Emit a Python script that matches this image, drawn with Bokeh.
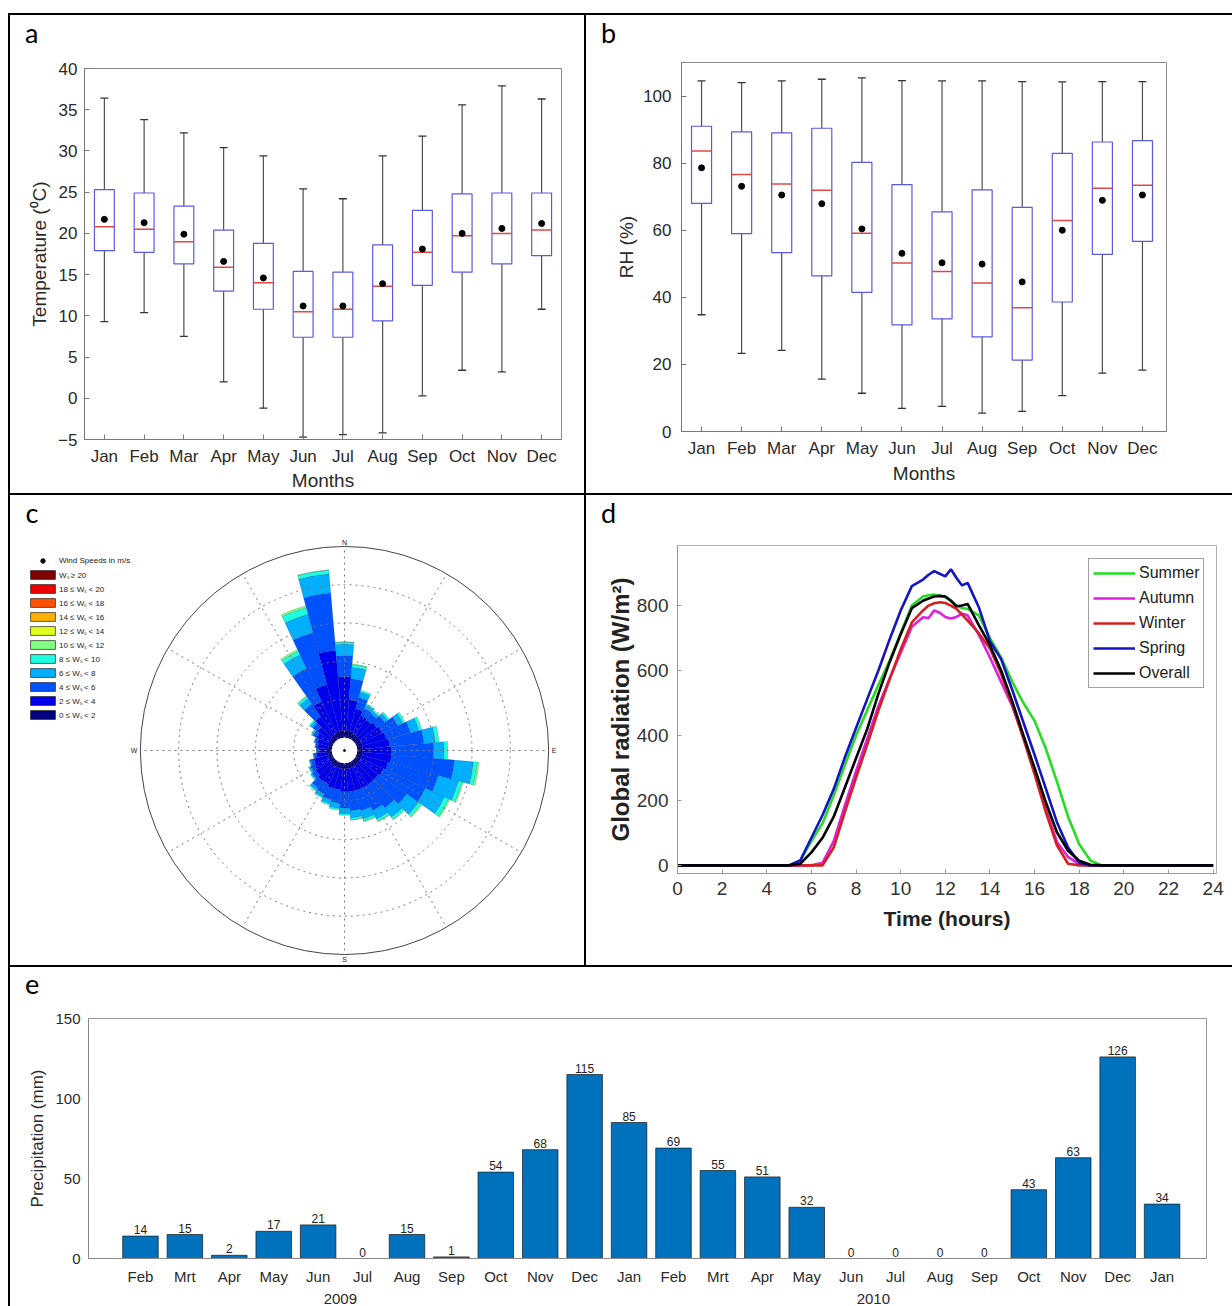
import numpy as np
from bokeh.plotting import figure
from bokeh.models import (ColumnDataSource, FixedTicker, SingleIntervalTicker, Legend, LegendItem,
                          LinearAxis, Label, Spacer, Range1d, Div)
from bokeh.layouts import row, column
from bokeh.embed import file_html
from bokeh.resources import INLINE
from bokeh.core.properties import value

FONT = "Liberation Sans"
LFONT = "Lato"

# ---------------- data: panel a (temperature box plots) ----------------
months = ["Jan", "Feb", "Mar", "Apr", "May", "Jun", "Jul", "Aug", "Sep", "Oct", "Nov", "Dec"]
temp_upper = [36.4, 33.8, 32.2, 30.4, 29.4, 25.4, 24.2, 29.4, 31.8, 35.6, 37.9, 36.3]
temp_q3 = [25.3, 24.9, 23.3, 20.4, 18.8, 15.4, 15.3, 18.6, 22.8, 24.8, 24.9, 24.9]
temp_median = [20.8, 20.5, 19.0, 15.9, 14.0, 10.5, 10.8, 13.6, 17.7, 19.7, 20.0, 20.4]
temp_mean = [21.7, 21.3, 19.9, 16.6, 14.6, 11.2, 11.2, 13.9, 18.1, 20.0, 20.6, 21.2]
temp_q1 = [17.9, 17.7, 16.3, 13.0, 10.8, 7.4, 7.4, 9.4, 13.7, 15.3, 16.3, 17.3]
temp_lower = [9.3, 10.4, 7.5, 2.0, -1.2, -4.7, -4.4, -4.2, 0.3, 3.4, 3.2, 10.8]

# ---------------- data: panel b (relative humidity box plots) ----------------
rh_upper = [104.5, 104.0, 104.5, 105.0, 105.4, 104.6, 104.5, 104.5, 104.3, 104.2, 104.3, 104.3]
rh_q3 = [91.0, 89.3, 89.0, 90.4, 80.2, 73.6, 65.5, 72.0, 66.8, 82.9, 86.3, 86.7]
rh_median = [83.6, 76.6, 73.8, 71.9, 59.1, 50.2, 47.7, 44.3, 36.9, 62.9, 72.5, 73.4]
rh_mean = [78.6, 73.1, 70.5, 67.9, 60.4, 53.1, 50.3, 49.9, 44.6, 60.0, 68.9, 70.5]
rh_q1 = [68.0, 59.0, 53.3, 46.4, 41.5, 31.8, 33.6, 28.2, 21.3, 38.6, 52.8, 56.7]
rh_lower = [34.8, 23.3, 24.2, 15.6, 11.4, 6.9, 7.5, 5.5, 6.0, 10.7, 17.4, 18.3]

# ---------------- data: panel c (wind rose, frequency in ring units) ----------------
wind_dirs = list(range(0, 360, 10))
speed_0_2 = [.20, .20, .20, .18, .15, .15, .15, .15, .15, .15, .15, .15, .15, .15, .15, .15, .15, .15,
             .15, .15, .15, .15, .15, .13, .12, .12, .10, .10, .10, .10, .12, .13, .15, .18, .20, .20]
speed_2_4 = [1.40, .80, .60, .50, .50, .55, .60, .65, .70, .75, .75, .70, .65, .60, .60, .60, .60, .60,
             .60, .55, .55, .50, .50, .45, .42, .38, .30, .25, .27, .30, .35, .40, .60, .90, 1.25, 2.10]
speed_4_6 = [.55, .55, .30, .20, .20, .25, .45, .65, .90, 1.10, 1.65, 1.35, 1.20, .90, .75, .65, .55, .50,
             .42, .35, .30, .27, .22, .12, .11, .09, .07, .05, .06, .07, .10, .16, .40, .95, 1.40, 1.50]
speed_6_8 = [.30, .30, .15, .10, .08, .10, .15, .23, .30, .27, .50, .55, .55, .38, .30, .25, .22, .19,
             .15, .14, .11, .09, .07, .04, .04, .03, .02, .01, .02, .02, .04, .07, .18, .40, .50, .50]
speed_8_10 = [.05, .07, .05, .04, .04, .05, .06, .08, .10, .10, .10, .10, .12, .08, .07, .06, .06, .05,
              .04, .04, .04, .03, .03, .02, .02, .01, .01, 0, 0, .01, .02, .04, .06, .10, .18, .10]
speed_10_12 = [.01, .02, 0, 0, 0, 0, 0, 0, 0, 0, .05, .03, .04, .03, .02, .02, .02, .01,
               0, 0, 0, 0, 0, 0, 0, 0, 0, 0, 0, 0, 0, 0, .02, .05, .05, .01]
speed_labels = ["Wₛ ≥ 20", "18 ≤ Wₛ < 20", "16 ≤ Wₛ < 18", "14 ≤ Wₛ < 16", "12 ≤ Wₛ < 14",
                "10 ≤ Wₛ < 12", "8 ≤ Wₛ < 10", "6 ≤ Wₛ < 8", "4 ≤ Wₛ < 6", "2 ≤ Wₛ < 4", "0 ≤ Wₛ < 2"]
speed_colors = ["#800000", "#EE0000", "#FF5200", "#FFB000", "#E0FF1E",
                "#80FF80", "#1EFFE0", "#00B0FF", "#0052FF", "#0000EE", "#00007F"]

# ---------------- data: panel d (diurnal global radiation) ----------------
hours = [0, 5, 5.5, 6, 6.5, 7, 7.5, 8, 8.5, 9, 9.5, 10, 10.5, 11, 11.25, 11.5, 11.75, 12, 12.25,
         12.5, 12.75, 13, 13.5, 14, 14.5, 15, 15.5, 16, 16.5, 17, 17.5, 18, 18.5, 19, 24]
rad_summer = [0, 0, 15, 75, 130, 215, 310, 400, 478, 555, 630, 715, 800, 828, 832, 834, 830, 826, 815,
              800, 792, 790, 770, 700, 640, 565, 500, 445, 360, 258, 150, 65, 15, 0, 0]
rad_autumn = [0, 0, 0, 0, 8, 75, 185, 290, 390, 490, 575, 655, 735, 764, 762, 785, 778, 765, 760,
              765, 775, 770, 710, 640, 565, 490, 395, 290, 175, 72, 26, 3, 0, 0, 0]
rad_winter = [0, 0, 0, 0, 0, 55, 165, 270, 372, 477, 572, 665, 748, 785, 800, 807, 810, 808, 800,
              790, 772, 754, 715, 668, 590, 495, 390, 280, 165, 62, 5, 0, 0, 0, 0]
rad_spring = [0, 0, 15, 85, 155, 235, 333, 423, 512, 600, 695, 785, 860, 880, 895, 906, 898, 890, 912,
              885, 862, 870, 795, 690, 635, 540, 440, 340, 237, 133, 55, 8, 0, 0, 0]
rad_overall = [0, 0, 5, 40, 85, 150, 240, 330, 420, 528, 625, 712, 792, 815, 822, 828, 830, 828, 815,
               798, 800, 805, 740, 678, 600, 505, 400, 300, 195, 102, 45, 14, 2, 0, 0]
seasons = ["Summer", "Autumn", "Winter", "Spring", "Overall"]
season_colors = ["#22DD22", "#E020E0", "#D42020", "#1414C4", "#000000"]

# ---------------- data: panel e (monthly precipitation) ----------------
precip_months = ["Feb", "Mrt", "Apr", "May", "Jun", "Jul", "Aug", "Sep", "Oct", "Nov", "Dec", "Jan",
                 "Feb", "Mrt", "Apr", "May", "Jun", "Jul", "Aug", "Sep", "Oct", "Nov", "Dec", "Jan"]
precip_mm = [14, 15, 2, 17, 21, 0, 15, 1, 54, 68, 115, 85, 69, 55, 51, 32, 0, 0, 0, 0, 43, 63, 126, 34]
years = ["2009", "2010"]
year_centers = [5.5, 17.5]

LETTER_H = 40  # height of the strip holding a panel letter


# ---------------- helpers ----------------
def base_fig(w, h, xr, yr, l, r, t, b):
    p = figure(width=w, height=h, x_range=xr, y_range=yr,
               min_border_left=l, min_border_right=r, min_border_top=t, min_border_bottom=b,
               toolbar_location=None, output_backend="svg",
               background_fill_color="white", border_fill_color="white")
    p.grid.visible = False
    return p


def style_axis(ax, size, color="#2a2a2a", line="#777", tick_in=5):
    ax.major_label_text_font = FONT
    ax.major_label_text_font_size = size
    ax.major_label_text_color = color
    ax.axis_line_color = line
    ax.major_tick_line_color = line
    ax.major_tick_in = tick_in
    ax.major_tick_out = 0
    ax.minor_tick_line_color = None
    ax.axis_label_text_font = FONT
    ax.axis_label_text_font_style = "normal"
    ax.axis_label_text_color = color


def letter_div(text, width, top=4, left=15):
    html = ('<span style="display:block; position:relative; top:%dpx; left:%dpx; '
            'font-family:Lato; font-size:27px; line-height:27px; color:black;">%s</span>'
            % (top, left, text))
    return Div(text=html, width=width, height=LETTER_H, margin=0)


def boxplot(p, up, q3, med, mean, q1, lo):
    x = np.arange(1, len(up) + 1)
    src = ColumnDataSource(dict(x=x, up=up, q3=q3, med=med, mean=mean, q1=q1, lo=lo,
                                xl=x - 0.25, xr=x + 0.25))
    wc = "#505050"
    p.segment("x", "q3", "x", "up", source=src, line_color=wc, line_width=1.2)
    p.segment("x", "lo", "x", "q1", source=src, line_color=wc, line_width=1.2)
    p.scatter("x", "up", source=src, marker="dash", size=8, line_color="#333", line_width=1.3)
    p.scatter("x", "lo", source=src, marker="dash", size=8, line_color="#333", line_width=1.3)
    p.vbar(x="x", width=0.5, top="q3", bottom="q1", source=src, fill_color=None,
           line_color="#5A5AE0", line_width=1.2)
    p.segment("xl", "med", "xr", "med", source=src, line_color="#E04848", line_width=1.5)
    p.scatter("x", "mean", source=src, size=6, fill_color="black", line_color="black")


def month_axis(p, labels):
    p.xaxis.ticker = FixedTicker(ticks=list(range(1, len(labels) + 1)))
    p.xaxis.major_label_overrides = {i + 1: m for i, m in enumerate(labels)}


# ---------------- panel a ----------------
pa = base_fig(574, 478 - LETTER_H, Range1d(0.5, 12.5), Range1d(-5, 40), 74, 23, 53 - LETTER_H, 53)
pa.outline_line_color = "#888"
boxplot(pa, temp_upper, temp_q3, temp_median, temp_mean, temp_q1, temp_lower)
month_axis(pa, months)
pa.yaxis.ticker = SingleIntervalTicker(interval=5, num_minor_ticks=0)
for ax in pa.axis:
    style_axis(ax, "17px")
pa.xaxis.axis_label = "Months"
pa.yaxis.axis_label = "Temperature (⁰C)"
pa.xaxis.axis_label_text_font_size = "19px"
pa.yaxis.axis_label_text_font_size = "19px"
pa.xaxis.major_label_standoff = 7
pa.yaxis.major_label_standoff = 7
pa.xaxis.axis_label_standoff = 1
pa.yaxis.axis_label_standoff = 5

# ---------------- panel b ----------------
pb = base_fig(646, 478 - LETTER_H, Range1d(0.5, 12.6), Range1d(0, 110), 95, 66, 47 - LETTER_H, 62)
pb.outline_line_color = "#888"
boxplot(pb, rh_upper, rh_q3, rh_median, rh_mean, rh_q1, rh_lower)
month_axis(pb, months)
pb.yaxis.ticker = SingleIntervalTicker(interval=20, num_minor_ticks=0)
for ax in pb.axis:
    style_axis(ax, "17px")
pb.xaxis.axis_label = "Months"
pb.yaxis.axis_label = "RH (%)"
pb.xaxis.axis_label_text_font_size = "19px"
pb.yaxis.axis_label_text_font_size = "19px"
pb.xaxis.major_label_standoff = 7
pb.yaxis.major_label_standoff = 10
pb.xaxis.axis_label_standoff = 2
pb.yaxis.axis_label_standoff = 3

# ---------------- panel c (wind rose) ----------------
S = 38.3  # pixels per ring unit (keeps x and y scales equal)
R0 = 0.33
R_OUT = R0 + 5
pc = figure(width=574, height=470, x_range=Range1d(-334 / S, 240 / S), y_range=Range1d(-215 / S, 255 / S),
            min_border=0, x_axis_type=None, y_axis_type=None, toolbar_location=None,
            output_backend="svg", outline_line_color=None, background_fill_color="white",
            border_fill_color="white")
pc.grid.visible = False

bear = np.array(wind_dirs, dtype=float)
a0 = np.deg2rad(90 - bear - 5)
a1 = np.deg2rad(90 - bear + 5)
base = np.full(len(wind_dirs), R0)
classes = [speed_0_2, speed_2_4, speed_4_6, speed_6_8, speed_8_10, speed_10_12]
class_colors = speed_colors[::-1][:len(classes)]
for vals, col in zip(classes, class_colors):
    v = np.array(vals, dtype=float)
    m = v > 0
    src = ColumnDataSource(dict(x=np.zeros(m.sum()), y=np.zeros(m.sum()), ri=base[m], ro=(base + v)[m],
                                a0=a0[m], a1=a1[m]))
    pc.annular_wedge(x="x", y="y", inner_radius="ri", outer_radius="ro", start_angle="a0",
                     end_angle="a1", source=src, fill_color=col, line_color="#000033",
                     line_alpha=0.3, line_width=0.5)
    base = base + v

ring_src = ColumnDataSource(dict(x=[0, 0, 0, 0], y=[0, 0, 0, 0], r=[R0 + k for k in (1, 2, 3, 4)]))
pc.circle(x="x", y="y", radius="r", source=ring_src, fill_color=None, line_color="#7a7a7a",
          line_dash="dotted", line_width=1)
pc.ray(x=[0] * 12, y=[0] * 12, length=R_OUT, angle=np.deg2rad(np.arange(0, 360, 30)),
       line_color="#7a7a7a", line_dash="dotted", line_width=1)
pc.circle(x=[0], y=[0], radius=[R_OUT], fill_color=None, line_color="#444", line_width=1)
pc.circle(x=[0], y=[0], radius=[R0], fill_color="white", line_color=None)
pc.scatter(x=[0], y=[0], size=2, color="black")

compass = ColumnDataSource(dict(x=[0, R_OUT, 0, -R_OUT], y=[R_OUT, 0, -R_OUT, 0], t=["N", "E", "S", "W"],
                                al=["center", "left", "center", "right"],
                                bl=["bottom", "middle", "top", "middle"],
                                xo=[0, 3, 0, -3], yo=[0, 0, 1, 0]))
pc.text(x="x", y="y", text="t", source=compass, text_align="al", text_baseline="bl",
        x_offset="xo", y_offset="yo", text_font=value(FONT), text_font_size="7px", text_color="#222")

# legend proxies (NaN data: nothing drawn in the plot, only the legend swatches)
items = []
dot_r = pc.scatter(x=[np.nan], y=[np.nan], size=2, color="black")
items.append(LegendItem(label="Wind Speeds in m/s", renderers=[dot_r]))
for lab, col in zip(speed_labels, speed_colors):
    q = pc.quad(left=[np.nan], right=[np.nan], top=[np.nan], bottom=[np.nan], fill_color=col,
                line_color="black", line_width=0.6)
    items.append(LegendItem(label=lab, renderers=[q]))
leg_c = Legend(items=items, location=(17, 245), glyph_width=31, glyph_height=11, label_height=11,
               spacing=3, padding=2, label_standoff=1, label_text_font=FONT,
               label_text_font_size="8px", label_text_color="#222",
               border_line_color=None, background_fill_alpha=0)
pc.add_layout(leg_c)
pc.add_layout(Label(x=15, y=453, x_units="screen", y_units="screen", text="c",
                    text_font=LFONT, text_font_size="27px", text_color="black",
                    text_align="left", text_baseline="alphabetic"))

# ---------------- panel d (global radiation) ----------------
pd_ = base_fig(646, 470 - LETTER_H, Range1d(0, 24.15), Range1d(-25, 985), 91, 16, 50 - LETTER_H, 92)
pd_.outline_line_color = "#b0b0b0"
series = [rad_summer, rad_autumn, rad_winter, rad_spring, rad_overall]
ritems = []
for name, vals, col in zip(seasons, series, season_colors):
    r = pd_.line(x=hours, y=vals, line_color=col, line_width=2.6)
    ritems.append(LegendItem(label=name, renderers=[r]))
pd_.xaxis.ticker = SingleIntervalTicker(interval=2, num_minor_ticks=0)
pd_.yaxis.ticker = SingleIntervalTicker(interval=200, num_minor_ticks=0)
for ax in pd_.axis:
    style_axis(ax, "19px", color="#333", line="#999", tick_in=4)
pd_.xaxis.axis_label = "Time (hours)"
pd_.yaxis.axis_label = "Global radiation (W/m²)"
for ax in pd_.axis:
    ax.axis_label_text_font_style = "bold"
    ax.axis_label_text_color = "#222"
pd_.xaxis.axis_label_text_font_size = "21px"
pd_.yaxis.axis_label_text_font_size = "24px"
pd_.xaxis.major_label_standoff = 8
pd_.yaxis.major_label_standoff = 9
pd_.xaxis.axis_label_standoff = 9
pd_.yaxis.axis_label_standoff = 0
leg_d = Legend(items=ritems, location=(411, 185), glyph_width=42, glyph_height=20, label_height=20,
               spacing=5, padding=4, label_standoff=4, label_text_font=FONT,
               label_text_font_size="16px", label_text_color="#222",
               border_line_color="#444", border_line_width=1, background_fill_color="white")
pd_.add_layout(leg_d)

# ---------------- panel e (precipitation bars) ----------------
pe = base_fig(1222, 339 - LETTER_H, Range1d(-0.17, 25.0), Range1d(0, 150), 78, 26, 51 - LETTER_H, 45)
pe.outline_line_color = "#999"
xpos = list(range(1, len(precip_mm) + 1))
esrc = ColumnDataSource(dict(x=xpos, v=precip_mm, lbl=[str(v) for v in precip_mm]))
pe.vbar(x="x", top="v", bottom=0, width=0.8, source=esrc, fill_color="#0072BD",
        line_color="#1a1a1a", line_width=0.7)
pe.text(x="x", y="v", text="lbl", source=esrc, text_align="center", text_baseline="bottom",
        y_offset=-2, text_font=value(FONT), text_font_size="12px", text_color="#222")
month_axis(pe, precip_months)
pe.yaxis.ticker = SingleIntervalTicker(interval=50, num_minor_ticks=0)
for ax in pe.axis:
    style_axis(ax, "15px", color="#2a2a2a", line="#888", tick_in=0)
pe.xaxis.major_label_standoff = 9
pe.yaxis.major_label_standoff = 8
pe.yaxis.axis_label = "Precipitation (mm)"
pe.yaxis.axis_label_text_font_size = "17px"
pe.yaxis.axis_label_standoff = 5
year_ax = LinearAxis(ticker=FixedTicker(ticks=year_centers),
                     major_label_overrides={c: y for c, y in zip(year_centers, years)})
year_ax.axis_line_color = None
year_ax.major_tick_line_color = None
year_ax.minor_tick_line_color = None
year_ax.major_label_standoff = 0
year_ax.major_label_text_font = FONT
year_ax.major_label_text_font_size = "15px"
year_ax.major_label_text_color = "#2a2a2a"
pe.add_layout(year_ax, "below")


# ---------------- table grid lines ----------------
def bar_line(w, h):
    return Spacer(width=w, height=h, styles={"background-color": "black"})


layout = column(
    Spacer(width=1232, height=13),
    row(Spacer(width=8, height=2), bar_line(1224, 2)),
    row(Spacer(width=8, height=478), bar_line(2, 478),
        column(letter_div("a", 574), pa), bar_line(2, 478),
        column(letter_div("b", 646), pb)),
    row(Spacer(width=8, height=2), bar_line(1224, 2)),
    row(Spacer(width=8, height=470), bar_line(2, 470), column(pc), bar_line(2, 470),
        column(letter_div("d", 646), pd_)),
    row(Spacer(width=8, height=2), bar_line(1224, 2)),
    row(Spacer(width=8, height=339), bar_line(2, 339), column(letter_div("e", 1222, top=3), pe)),
)

with open("out.html", "w") as f:
    f.write(file_html(layout, INLINE))
